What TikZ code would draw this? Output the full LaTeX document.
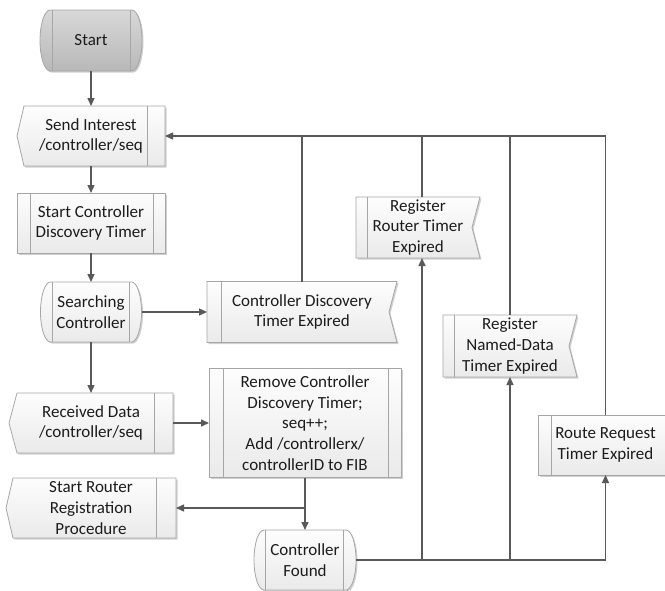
\documentclass[tikz,border=0pt]{standalone}
\usepackage{fontspec}
\setmainfont{Carlito}
\usetikzlibrary{arrows.meta,calc}

\definecolor{ink}{HTML}{1C1C1C}
\definecolor{wirecol}{HTML}{595959}
\definecolor{rim}{HTML}{A6A6A6}
\definecolor{paleA}{HTML}{FDFDFD}
\definecolor{paleB}{HTML}{EAEAEA}
\definecolor{greyA}{HTML}{D8D8D8}
\definecolor{greyB}{HTML}{B8B8B8}
\definecolor{shadowcol}{HTML}{D0D0D0}

\pgfdeclarelayer{bg}
\pgfsetlayers{bg,main}

% outline of a terminator with bowed ends: node, extra shift
\newcommand\termpath[2]{%
  ([xshift=10pt,#2]#1.north west) -- ([xshift=-10pt,#2]#1.north east)
  .. controls ([xshift=-4.5pt,#2]#1.north east) and ([yshift=16.5pt,#2]#1.east) .. ([#2]#1.east)
  .. controls ([yshift=-16.5pt,#2]#1.east) and ([xshift=-4.5pt,#2]#1.south east) .. ([xshift=-10pt,#2]#1.south east)
  -- ([xshift=10pt,#2]#1.south west)
  .. controls ([xshift=4.5pt,#2]#1.south west) and ([yshift=-16.5pt,#2]#1.west) .. ([#2]#1.west)
  .. controls ([yshift=16.5pt,#2]#1.west) and ([xshift=4.5pt,#2]#1.north west) .. ([xshift=10pt,#2]#1.north west)
  -- cycle}
% outline of a display box pointing left: node, point depth, extra shift
\newcommand\disppath[3]{%
  ([xshift=#2,#3]#1.north west) -- ([#3]#1.north east) -- ([#3]#1.south east)
  -- ([xshift=#2,#3]#1.south west) -- ([#3]#1.west) -- cycle}
% outline of a box with a notch on its right side: node, extra shift
\newcommand\notchpath[2]{%
  ([#2]#1.north west) -- ([#2]#1.north east) -- ([xshift=-8pt,#2]#1.east)
  -- ([#2]#1.south east) -- ([#2]#1.south west) -- cycle}
% plain rectangle outline: node, extra shift
\newcommand\rectpath[2]{%
  ([#2]#1.north west) rectangle ([#2]#1.south east)}

\newcommand\vbar[2]{% vertical rule inside a node at a given x offset from its west side
  \draw[innerrule] ([xshift=#2]#1.north west) -- ([xshift=#2]#1.south west);}
\newcommand\vbarr[2]{% vertical rule at a given offset from the east side
  \draw[innerrule] ([xshift=-#2]#1.north east) -- ([xshift=-#2]#1.south east);}

\tikzset{
  x=1pt, y=-1pt,
  box/.style={draw=none, inner sep=0pt, outer sep=0pt, align=center, text=ink,
    font=\fontsize{17}{20.8}\selectfont},
  lightbody/.style={draw=rim, line width=0.8pt, top color=paleA, bottom color=paleB},
  greybody/.style={draw=rim, line width=0.8pt, top color=greyA, bottom color=greyB},
  dropshadow/.style={fill=shadowcol, draw=none},
  innerrule/.style={draw=rim, line width=0.8pt},
  wire/.style={draw=wirecol, line width=1.4pt},
  flow/.style={wire, -{Triangle[length=8pt,width=7pt]}},
}

\begin{document}
\begin{tikzpicture}
\useasboundingbox (0,0) rectangle (665,590);

% ---- left column
\node[box, minimum width=102pt, minimum height=61pt] (start) at (91,40.5) {Start};
\node[box, minimum width=148pt, minimum height=60pt] (si) at (91,136) {Send Interest\\/controller/seq};
\node[box, minimum width=148pt, minimum height=60pt] (scdt) at (91,223) {Start Controller\\Discovery Timer};
\node[box, minimum width=101pt, minimum height=60pt] (sc) at (91,312) {Searching\\Controller};
\node[box, minimum width=164pt, minimum height=60pt] (rd) at (91,423) {Received Data\\/controller/seq};
\node[box, minimum width=170pt, minimum height=60pt] (sr) at (91,508) {Start Router\\Registration\\Procedure};

% ---- middle column
\node[box, minimum width=190pt, minimum height=61pt] (cdte) at (302,312) {Controller Discovery\\Timer Expired};
\node[box, minimum width=192pt, minimum height=109pt] (rm) at (305,423)
  {Remove Controller\\Discovery Timer;\\seq++;\\Add /controllerx/\\controllerID to FIB};
\node[box, minimum width=102pt, minimum height=60pt] (cf) at (305,560) {Controller\\Found};

% ---- timer events on the right
\node[box, minimum width=124pt, minimum height=61pt] (rr) at (418,227.5) {Register\\Router Timer\\Expired};
\node[box, minimum width=134pt, minimum height=62pt] (nd) at (510,346) {Register\\Named-Data\\Timer Expired};
\node[box, minimum width=135pt, minimum height=60pt] (rq) at (605.5,445) {Route Request\\Timer Expired};
\coordinate (rrport) at (422,227.5);

\begin{pgfonlayer}{bg}
  % drop shadows
  \path[dropshadow] \termpath{start}{xshift=1.5pt,yshift=-1.5pt};
  \path[dropshadow] \termpath{sc}{xshift=1.5pt,yshift=-1.5pt};
  \path[dropshadow] \termpath{cf}{xshift=1.5pt,yshift=-1.5pt};
  \path[dropshadow] \disppath{si}{7pt}{xshift=1.5pt,yshift=-1.5pt};
  \path[dropshadow] \disppath{rd}{8pt}{xshift=1.5pt,yshift=-1.5pt};
  \path[dropshadow] \disppath{sr}{7pt}{xshift=1.5pt,yshift=-1.5pt};
  \path[dropshadow] \rectpath{scdt}{xshift=1.5pt,yshift=-1.5pt};
  \path[dropshadow] \rectpath{rm}{xshift=1.5pt,yshift=-1.5pt};
  \path[dropshadow] \notchpath{cdte}{xshift=1.5pt,yshift=-1.5pt};
  \path[dropshadow] \notchpath{rr}{xshift=1.5pt,yshift=-1.5pt};
  \path[dropshadow] \notchpath{nd}{xshift=1.5pt,yshift=-1.5pt};
  \path[dropshadow] \rectpath{rq}{xshift=1.5pt,yshift=-1.5pt};

  % bodies
  \path[greybody] \termpath{start}{xshift=0pt};
  \vbar{start}{12pt} \vbarr{start}{12pt}
  \path[lightbody] \termpath{sc}{xshift=0pt};
  \vbar{sc}{12pt} \vbarr{sc}{12pt}
  \path[lightbody] \termpath{cf}{xshift=0pt};
  \vbar{cf}{11pt} \vbarr{cf}{13pt}

  \path[lightbody] \disppath{si}{7pt}{xshift=0pt};
  \vbarr{si}{18pt}
  \path[lightbody] \disppath{rd}{8pt}{xshift=0pt};
  \vbarr{rd}{19pt}
  \path[lightbody] \disppath{sr}{7pt}{xshift=0pt};
  \vbarr{sr}{20pt}

  \path[lightbody] \rectpath{scdt}{xshift=0pt};
  \vbar{scdt}{13pt} \vbarr{scdt}{12pt}
  \path[lightbody] \rectpath{rm}{xshift=0pt};
  \vbar{rm}{14pt} \vbarr{rm}{13pt}

  \path[lightbody] \notchpath{cdte}{xshift=0pt};
  \vbar{cdte}{14pt}
  \path[lightbody] \notchpath{rr}{xshift=0pt};
  \vbar{rr}{11pt}
  \path[lightbody] \notchpath{nd}{xshift=0pt};
  \vbar{nd}{11pt}
  \path[lightbody] \rectpath{rq}{xshift=0pt};
  \vbar{rq}{13pt}
\end{pgfonlayer}

% ---- main flow
\draw[flow] (start) -- (si);
\draw[flow] (si) -- (scdt);
\draw[flow] (scdt) -- (sc);
\draw[flow] (sc) -- (cdte);
\draw[flow] (sc) -- (rd);
\draw[flow] (rd) -- (rm);
\draw[flow] (rm) -- (cf);
\coordinate (split) at (rm.south |- sr.east);
\draw[flow] (split) -- (sr.east);

% ---- expired timers send the interest again
\draw[flow] (rq.north) |- (si.east);
\draw[wire] (cdte.north) -- (cdte.north |- si.east);
\draw[wire] (rrport |- rr.north) -- (rrport |- si.east);
\draw[wire] (nd.north) -- (nd.north |- si.east);

% ---- controller found starts the timers
\draw[flow] (cf.east) -| (rq.south);
\draw[flow] (cf.east -| rrport) -- (rrport |- rr.south);
\draw[flow] (cf.east -| nd.south) -- (nd.south);
\end{tikzpicture}
\end{document}
